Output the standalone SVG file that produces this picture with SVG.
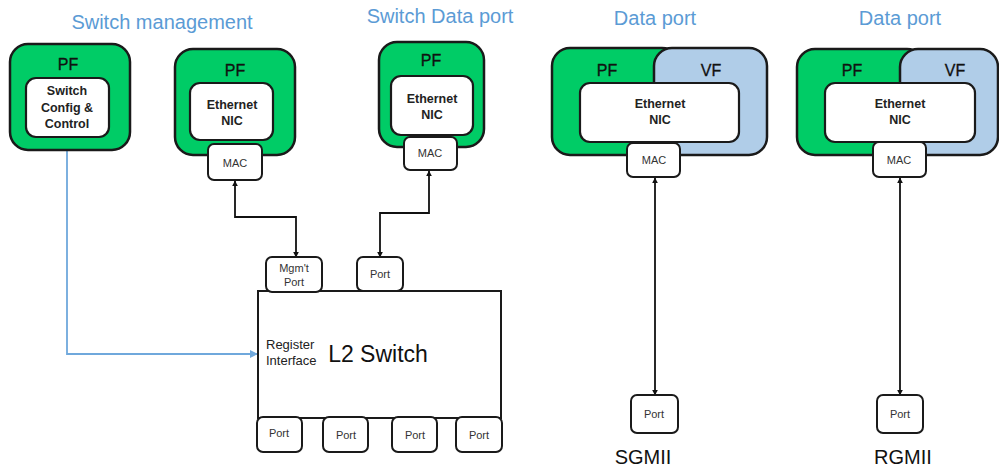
<svg xmlns="http://www.w3.org/2000/svg" width="999" height="468" viewBox="0 0 999 468">
<defs>
<style>
.title{font-family:"Liberation Sans",Arial,sans-serif;font-size:20px;fill:#5B9BD5;text-anchor:middle}
.pf{fill:#00CC66;stroke:#1a1a1a;stroke-width:2.5}
.vf{fill:#B0CDE8;stroke:#1a1a1a;stroke-width:2.5}
.inner{fill:#fff;stroke:#1a1a1a;stroke-width:2.2}
.box{fill:#fff;stroke:#1a1a1a;stroke-width:2}
.lbl{font-family:"Liberation Sans",Arial,sans-serif;font-size:16px;fill:#111;text-anchor:middle;stroke:#111;stroke-width:0.3}
.bold{font-family:"Liberation Sans",Arial,sans-serif;font-size:12.5px;font-weight:bold;fill:#222;text-anchor:middle}
.small{font-family:"Liberation Sans",Arial,sans-serif;font-size:11px;fill:#333;text-anchor:middle}
.big{font-family:"Liberation Sans",Arial,sans-serif;font-size:20px;fill:#111;text-anchor:middle}
.reg{font-family:"Liberation Sans",Arial,sans-serif;font-size:13px;fill:#222}
.conn{fill:none;stroke:#111;stroke-width:1.8}
.bconn{fill:none;stroke:#6FA8DC;stroke-width:1.8}
</style>
<marker id="ah" viewBox="0 0 10 10" refX="9" refY="5" markerWidth="6" markerHeight="6" orient="auto-start-reverse" markerUnits="userSpaceOnUse"><path d="M0,0 L10,5 L0,10 z" fill="#111"/></marker>
<marker id="bh" viewBox="0 0 10 10" refX="9" refY="5" markerWidth="8" markerHeight="8" orient="auto" markerUnits="userSpaceOnUse"><path d="M0,0 L10,5 L0,10 z" fill="#6FA8DC"/></marker>
</defs>
<rect width="999" height="468" fill="#fff"/>

<text class="title" x="162" y="29">Switch management</text>
<text class="title" x="440" y="23">Switch Data port</text>
<text class="title" x="655" y="25">Data port</text>
<text class="title" x="900" y="25">Data port</text>

<g id="connectors">
<path class="bconn" d="M67,137 V354 H257" marker-end="url(#bh)"/>
<path class="conn" d="M235,181 V217 H296 V257" marker-start="url(#ah)" marker-end="url(#ah)"/>
<path class="conn" d="M429,171 V213 H380 V257" marker-start="url(#ah)" marker-end="url(#ah)"/>
<path class="conn" d="M655,178 V395" marker-start="url(#ah)" marker-end="url(#ah)"/>
<path class="conn" d="M900,178 V395" marker-start="url(#ah)" marker-end="url(#ah)"/>
</g>

<g id="switch-config">
<rect class="pf" x="10" y="44" width="120" height="106" rx="18"/>
<text class="lbl" x="68" y="70">PF</text>
<rect class="inner" x="26" y="78" width="83" height="59" rx="10"/>
<text class="bold" x="67" y="95">Switch</text>
<text class="bold" x="67" y="112">Config &amp;</text>
<text class="bold" x="67" y="128">Control</text>
</g>

<g id="mgmt-nic">
<rect class="pf" x="175" y="49" width="120" height="106" rx="18"/>
<text class="lbl" x="235" y="76">PF</text>
<rect class="inner" x="190" y="83" width="83" height="57" rx="10"/>
<text class="bold" x="232" y="109">Ethernet</text>
<text class="bold" x="232" y="125">NIC</text>
<rect class="box" x="208" y="144" width="54" height="36" rx="6"/>
<text class="small" x="235" y="167">MAC</text>
</g>

<g id="data-nic">
<rect class="pf" x="379" y="42" width="105" height="105" rx="18"/>
<text class="lbl" x="431" y="66">PF</text>
<rect class="inner" x="391" y="76" width="82" height="59" rx="10"/>
<text class="bold" x="432" y="103">Ethernet</text>
<text class="bold" x="432" y="119">NIC</text>
<rect class="box" x="404" y="137" width="53" height="33" rx="6"/>
<text class="small" x="430" y="157">MAC</text>
</g>

<g id="sgmii-nic">
<rect class="pf" x="552" y="48" width="128" height="107" rx="18"/>
<rect class="vf" x="654" y="48" width="113" height="107" rx="18"/>
<text class="lbl" x="607" y="76">PF</text>
<text class="lbl" x="711" y="76">VF</text>
<rect class="inner" x="580" y="83" width="159" height="59" rx="10"/>
<text class="bold" x="660" y="108">Ethernet</text>
<text class="bold" x="660" y="124">NIC</text>
<rect class="box" x="627" y="143" width="53" height="34" rx="6"/>
<text class="small" x="654" y="164">MAC</text>
</g>

<g id="rgmii-nic">
<rect class="pf" x="797" y="49" width="128" height="106" rx="18"/>
<rect class="vf" x="900" y="49" width="98" height="106" rx="18"/>
<text class="lbl" x="852" y="76">PF</text>
<text class="lbl" x="955" y="76">VF</text>
<rect class="inner" x="825" y="83" width="150" height="59" rx="10"/>
<text class="bold" x="900" y="108">Ethernet</text>
<text class="bold" x="900" y="124">NIC</text>
<rect class="box" x="873" y="142" width="53" height="35" rx="6"/>
<text class="small" x="899" y="164">MAC</text>
</g>

<g id="l2-switch">
<rect fill="#fff" stroke="#1a1a1a" stroke-width="2" x="258" y="291" width="243" height="127"/>
<text class="big" x="378" y="362" style="font-size:23px">L2 Switch</text>
<text class="reg" x="266" y="349">Register</text>
<text class="reg" x="266" y="365">Interface</text>
</g>

<g id="mgmt-port">
<rect class="box" x="266" y="257" width="56" height="35" rx="6"/>
<text class="small" x="294" y="272">Mgm't</text>
<text class="small" x="294" y="286">Port</text>
</g>
<g id="top-port">
<rect class="box" x="357" y="257" width="46" height="34" rx="6"/>
<text class="small" x="380" y="278">Port</text>
</g>
<g id="port-1"><rect class="box" x="257" y="417" width="45" height="35" rx="6"/><text class="small" x="279" y="437">Port</text></g>
<g id="port-2"><rect class="box" x="323" y="417" width="45" height="35" rx="6"/><text class="small" x="346" y="439">Port</text></g>
<g id="port-3"><rect class="box" x="392" y="417" width="45" height="35" rx="6"/><text class="small" x="415" y="439">Port</text></g>
<g id="port-4"><rect class="box" x="456" y="417" width="46" height="35" rx="6"/><text class="small" x="479" y="439">Port</text></g>

<g id="sgmii-port">
<rect class="box" x="631" y="395" width="47" height="38" rx="6"/>
<text class="small" x="654" y="418">Port</text>
<text class="big" x="643" y="464">SGMII</text>
</g>
<g id="rgmii-port">
<rect class="box" x="877" y="395" width="46" height="38" rx="6"/>
<text class="small" x="900" y="418">Port</text>
<text class="big" x="903" y="464">RGMII</text>
</g>
</svg>
